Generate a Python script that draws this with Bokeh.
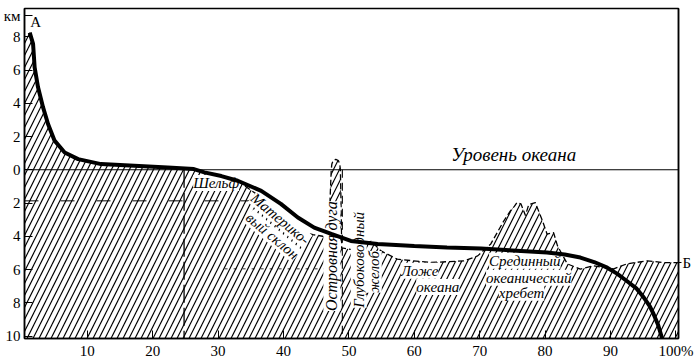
import math
from bokeh.plotting import figure
from bokeh.models import Range1d, FixedTicker, Label, Span, LinearAxis
from bokeh.core.properties import value
from bokeh.embed import file_html
from bokeh.resources import INLINE

# ---- axis limits ----
X_MIN, X_MAX = 0.4, 100.4
Y_MIN, Y_MAX = -10.15, 9.7

# ---- hypsographic curve (cumulative % of Earth's surface, km) ----
curve_x = [1.2, 1.71, 1.95, 2.47, 3.24, 4.0, 5.0, 6.54, 8.6, 12.1, 17.2, 22.3, 26.3, 27.9,
           30.5, 33.0, 36.6, 39.6, 42.2, 44.7, 47.3, 50.3, 54.4, 60.0, 65.0, 70.2, 75.0,
           80.3, 83.0, 85.4, 87.5, 89.5, 91.0, 92.5, 94.0, 95.1, 96.0, 96.6, 97.3, 97.9]
curve_y = [8.25, 7.57, 6.16, 4.96, 3.75, 2.75, 1.75, 1.04, 0.64, 0.34, 0.24, 0.14, 0.04, -0.16,
           -0.38, -0.66, -1.27, -2.05, -2.87, -3.48, -3.86, -4.28, -4.46, -4.58, -4.68, -4.74, -4.85,
           -4.98, -5.1, -5.28, -5.55, -5.89, -6.25, -6.69, -7.15, -7.69, -8.2, -8.69, -9.35, -10.15]

# ---- real relief profile (upper edge of hatched area) ----
relief_x = [0.4, 1.2, 1.71, 1.95, 2.47, 3.24, 4.0, 5.0, 6.54, 8.6, 12.1, 17.2, 22.3, 26.3, 27.9,
            30.5, 33.0, 34.0, 36.0, 38.1, 41.0, 42.9, 44.5, 46.0, 46.9,
            47.1, 47.3, 47.4, 47.6, 48.0, 48.4, 48.6, 48.7, 48.8, 48.9,
            50.5, 51.5, 53.4, 54.9, 57.4, 62.5, 67.6, 69.7, 71.7, 73.7, 74.7, 75.3, 75.7,
            76.3, 77.0, 77.5, 78.5, 79.6, 80.3, 81.3, 81.9, 83.4, 85.4, 87.4, 90.5, 92.5,
            95.6, 98.1, 100.4]
relief_y = [8.25, 8.25, 7.57, 6.16, 4.96, 3.75, 2.75, 1.75, 1.04, 0.64, 0.34, 0.24, 0.14, 0.04, -0.16,
            -0.38, -0.66, -0.95, -1.5, -2.05, -3.0, -3.75, -3.9, -4.0, -4.1,
            -2.0, 0.0, 0.35, 0.55, 0.62, 0.55, 0.35, 0.0, -2.0, -4.7,
            -4.8, -4.6, -4.3, -4.88, -5.38, -5.58, -5.48, -5.18, -4.46, -3.07, -2.47, -2.2, -1.97,
            -2.05, -2.75, -2.1, -1.97, -3.07, -3.87, -3.78, -4.58, -5.66, -5.98, -5.78, -5.96, -5.66,
            -5.48, -5.58, -5.58]

# ---- ticks ----
x_ticks = [10, 20, 30, 40, 50, 60, 70, 80, 90, 100]
x_tick_labels = ["10", "20", "30", "40", "50", "60", "70", "80", "90", "100%"]
y_ticks = [-10, -8, -6, -4, -2, 0, 2, 4, 6, 8, 9.25]
y_tick_labels = ["10", "8", "6", "4", "2", "0", "2", "4", "6", "8", "км"]
b_ticks = [-5.58]
b_tick_labels = ["Б"]

# ---- auxiliary dashed lines ----
shelf_edge_x = 24.8       # vertical dashed line
shelf_depth = -1.87       # horizontal dashed line (depth)
trench_x = 49.0           # vertical dashed line at trench
deep_level = -5.96        # dotted level

SERIF = "Liberation Serif"

p = figure(width=700, height=362, x_range=Range1d(X_MIN, X_MAX), y_range=Range1d(Y_MIN, Y_MAX),
           output_backend="svg", toolbar_location=None,
           min_border_left=23, min_border_right=22, min_border_top=8, min_border_bottom=24)
p.background_fill_color = "white"
p.border_fill_color = "white"
p.outline_line_color = "black"
p.outline_line_width = 1.5
p.xgrid.visible = False
p.ygrid.visible = False

b_axis = LinearAxis()
p.add_layout(b_axis, "right")

for ax, ticks, labels in ((p.xaxis[0], x_ticks, x_tick_labels), (p.yaxis[0], y_ticks, y_tick_labels),
                          (b_axis, b_ticks, b_tick_labels)):
    ax.ticker = FixedTicker(ticks=ticks)
    ax.major_label_overrides = {t: l for t, l in zip(ticks, labels)}
    ax.major_tick_in = 8
    ax.major_tick_out = 0
    ax.minor_tick_line_color = None
    ax.major_tick_line_color = "black"
    ax.major_tick_line_width = 1
    ax.axis_line_color = "black"
    ax.axis_line_width = 1.5
    ax.major_label_text_font = SERIF
    ax.major_label_text_font_size = "15px"
    ax.major_label_text_color = "black"
    ax.major_label_standoff = 4
b_axis.major_tick_in = 0
b_axis.major_tick_out = 3
b_axis.major_label_standoff = 1

# hatched relief polygon
poly_x = [X_MIN] + relief_x + [X_MAX, X_MIN]
poly_y = [Y_MIN] + relief_y + [Y_MIN, Y_MIN]
p.patch(poly_x, poly_y, fill_color=None, line_color=None,
        hatch_pattern="/", hatch_color="black", hatch_scale=12, hatch_weight=1.2)
p.line(relief_x[16:], relief_y[16:], line_color="black", line_width=1.3, line_dash="6 3")

# auxiliary lines
p.line([shelf_edge_x, shelf_edge_x], [0, Y_MIN], line_color="black", line_width=1.3, line_dash="18 5")
p.line([X_MIN, 37.0], [shelf_depth, shelf_depth], line_color="black", line_width=1, line_dash="14 22")
p.line([trench_x, trench_x], [0, Y_MIN], line_color="black", line_width=1.1, line_dash="8 5")
p.line([31.0, 48.8], [deep_level, deep_level], line_color="black", line_width=0.8, line_dash="3 6")

# sea level
p.add_layout(Span(location=0, dimension="width", line_color="black", line_width=1.2))

# in-area labels
lab = dict(text_font=value(SERIF), text_font_style="italic", text_color="black",
           text_align="center", text_baseline="middle")
p.text(x=[75.2], y=[0.9], text=["Уровень океана"], text_font_size="19px", **lab)

p.text(x=[29.7, 60.8, 63.6, 76.9, 77.5, 76.4],
       y=[-0.8, -6.08, -7.05, -5.48, -6.5, -7.4],
       text=["Шельф", "Ложе", "океана", "Срединный", "океанический", "хребет"],
       text_font_size="15px", background_fill_color="white", padding=0, **lab)

slope_angle = -math.radians(40)
p.text(x=[39.5, 38.3], y=[-2.95, -3.98], text=["Материко-", "вый склон"], angle=slope_angle,
       text_font_size="15px", background_fill_color="white", padding=0, **lab)

p.text(x=[47.4], y=[-5.2], text=["Островная дуга"], angle=math.pi / 2,
       text_font_size="16px", background_fill_color="white", padding=0, **lab)
p.text(x=[51.5, 53.8], y=[-5.42, -6.14], text=["Глубоководный", "желоб"], angle=math.pi / 2,
       text_font_size="15px", background_fill_color="white", padding=0, **lab)

# hypsographic curve on top
p.line(curve_x, curve_y, line_color="black", line_width=4)

p.add_layout(Label(x=2.1, y=8.86, text="А", text_font=SERIF, text_font_size="15px",
                   text_align="center", text_baseline="middle", text_color="black"))

open("out.html", "w").write(file_html(p, INLINE))
